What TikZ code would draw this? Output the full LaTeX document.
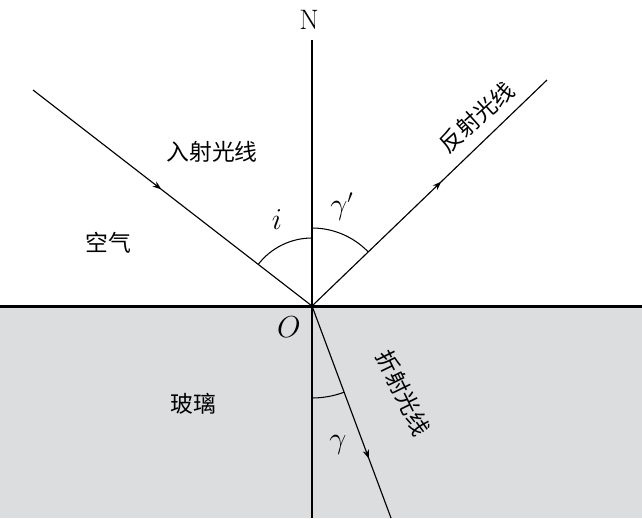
\documentclass[tikz,border=0pt]{standalone}
\usepackage{fontspec}
\newfontfamily\cjk{Noto Sans CJK SC}
\usetikzlibrary{arrows.meta,decorations.markings}

\begin{document}
\begin{tikzpicture}[
    x=0.02cm, y=0.02cm,
    ray/.style={line width=0.65pt},
    midarrow/.style={postaction={decorate, decoration={markings,
        mark=at position #1 with {\arrow{Stealth[length=5pt,width=3.6pt]}}}}},
    anglearc/.style={line width=0.6pt},
    glass/.style={fill={rgb,255:red,220;green,221;blue,223}},
    lbl/.style={font=\cjk\fontsize{13}{15}\selectfont, inner sep=0pt},
    sym/.style={font=\fontsize{16}{18}\selectfont, inner sep=0pt}
]
\useasboundingbox (0,0) rectangle (642,518);

% points
\coordinate (O) at (312,212);
\coordinate (Ntop) at (312,478);
\coordinate (Nbot) at (312,0);
\coordinate (inc) at (33,428);
\coordinate (refl) at (547,438);
\coordinate (refr) at (391,0);
\coordinate (left) at (0,211.5);
\coordinate (right) at (642,211.5);

% glass
\fill[glass] (0,0) rectangle (642,211.5);

% normal
\draw[ray] (Ntop) -- (Nbot);
\node[sym] (N) at (309,498) {N};

% rays
\draw[ray, midarrow=0.46] (inc) -- (O);
\draw[ray, midarrow=0.55] (O) -- (refl);
\draw[ray, midarrow=0.72] (O) -- (refr);

% angles
\draw[anglearc] (O) ++(90:68) arc (90:142.3:68);
\draw[anglearc] (O) ++(90:78) arc (90:43.9:78);
\draw[anglearc] (O) ++(-90:92) arc (-90:-69.6:92);

% interface
\draw[line width=1.9pt] (left) -- (right);

% labels
\node[lbl] (incl) at (212,366) {入射光线};
\node[lbl] (air) at (108,275) {空气};
\node[lbl] (glassl) at (193,114) {玻璃};
\node[lbl, rotate=42] (refll) at (477,401) {反射光线};
\node[lbl, rotate=-64] (refrl) at (403,125) {折射光线};
\node[sym] (ang i) at (277,298) {$i$};
\node[sym] (ang r) at (342,311) {$\gamma'$};
\node[sym] (Olbl) at (289,191) {$O$};
\node[sym] (ang t) at (338,73) {$\gamma$};

\end{tikzpicture}
\end{document}
